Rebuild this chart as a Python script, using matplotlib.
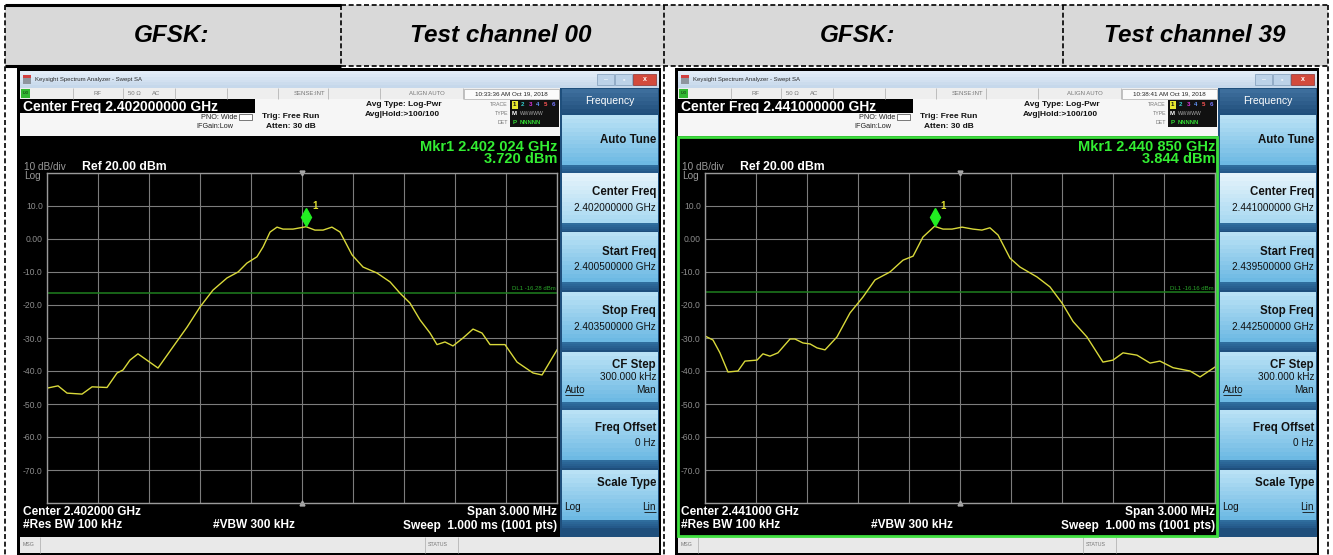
import matplotlib
matplotlib.use("Agg")
import matplotlib.pyplot as plt
from matplotlib.patches import Rectangle

# ---------------- data ----------------
header_labels = ["GFSK:", "Test channel 00", "GFSK:", "Test channel 39"]

left_center = "2.402000000 GHz"
left_start = "2.400500000 GHz"
left_stop = "2.403500000 GHz"
left_center_short = "2.402000 GHz"
left_time = "10:33:36 AM Oct 19, 2018"
left_mkr_freq_text = "2.402 024 GHz"
left_mkr_level_text = "3.720 dBm"
left_mkr_offset = 0.024          # MHz from centre
left_mkr_level = 3.72
left_dl = -16.28
left_freq = [-1.5, -1.435, -1.382, -1.294, -1.235, -1.147, -1.088, -1.053, -1.012, -0.965,
             -0.847, -0.759, -0.676, -0.6, -0.524, -0.441, -0.376, -0.324, -0.265, -0.229,
             -0.188, -0.147, -0.112, -0.053, 0.024, 0.076, 0.124, 0.176, 0.224, 0.294,
             0.359, 0.441, 0.518, 0.576, 0.635, 0.694, 0.753, 0.794, 0.841, 0.888,
             0.947, 1.006, 1.059, 1.106, 1.194, 1.265, 1.359, 1.412, 1.5]
left_level = [-45.2, -44.5, -46.7, -47.0, -44.8, -45.0, -40.6, -39.7, -36.7, -34.8,
              -39.1, -32.7, -26.7, -20.6, -15.5, -11.8, -10.0, -7.3, -5.4, -2.4,
              2.1, 3.6, 3.0, 3.0, 3.72, 2.7, 2.7, 3.6, 2.1, -4.8,
              -8.5, -10.3, -13.0, -16.4, -19.4, -24.5, -28.5, -32.0, -31.2, -32.4,
              -30.0, -27.3, -28.5, -32.0, -32.0, -37.3, -40.6, -41.2, -33.6]

right_center = "2.441000000 GHz"
right_start = "2.439500000 GHz"
right_stop = "2.442500000 GHz"
right_center_short = "2.441000 GHz"
right_time = "10:38:41 AM Oct 19, 2018"
right_mkr_freq_text = "2.440 850 GHz"
right_mkr_level_text = "3.844 dBm"
right_mkr_offset = -0.15
right_mkr_level = 3.844
right_dl = -16.16
right_freq = [-1.5, -1.453, -1.412, -1.365, -1.306, -1.265, -1.194, -1.159, -1.118, -1.071,
              -1.0, -0.971, -0.924, -0.882, -0.841, -0.794, -0.724, -0.647, -0.571, -0.5,
              -0.412, -0.335, -0.276, -0.218, -0.15, -0.1, -0.047, 0.012, 0.076, 0.129,
              0.176, 0.224, 0.294, 0.353, 0.453, 0.529, 0.6, 0.665, 0.747, 0.841,
              0.9, 0.959, 1.041, 1.118, 1.176, 1.253, 1.353, 1.412, 1.5]
right_level = [-29.4, -30.6, -34.5, -40.3, -40.0, -37.0, -36.7, -34.8, -35.5, -34.5,
               -30.3, -30.3, -31.5, -31.8, -33.0, -33.6, -29.7, -22.4, -17.6, -12.4,
               -10.0, -6.4, -5.2, 0.6, 3.84, 3.0, 3.0, 3.6, 3.0, 2.7,
               3.4, 1.2, -5.8, -8.5, -11.5, -14.5, -19.4, -25.0, -29.7, -37.3,
               -36.7, -34.5, -35.2, -37.6, -37.0, -39.0, -40.0, -41.8, -38.8]

y_ticks = [-80, -70, -60, -50, -40, -30, -20, -10, 0, 10, 20]
y_tick_labels = ["", "-70.0", "-60.0", "-50.0", "-40.0", "-30.0", "-20.0", "-10.0", "0.00", "10.0", ""]
x_ticks = [-1.5, -1.2, -0.9, -0.6, -0.3, 0.0, 0.3, 0.6, 0.9, 1.2, 1.5]

# ---------------- figure ----------------
W, H = 1333, 555
plt.rcParams['font.family'] = ['Liberation Sans', 'DejaVu Sans']
fig = plt.figure(figsize=(W / 100, H / 100), dpi=100)
fig.patch.set_facecolor('white')
bg = fig.add_axes([0, 0, 1, 1])
bg.set_xlim(0, W)
bg.set_ylim(H, 0)
bg.axis('off')


def rect(x0, y0, x1, y1, fc, ec='none', lw=0, z=1):
    bg.add_patch(Rectangle((x0, y0), x1 - x0, y1 - y0, facecolor=fc, edgecolor=ec,
                           linewidth=lw, zorder=z))


def txt(x, y, s, size, color='black', weight='normal', ha='left', va='center', style='normal', z=5):
    bg.text(x, y, s, fontsize=size, color=color, fontweight=weight, ha=ha, va=va,
            fontstyle=style, zorder=z)


def line(xs, ys, color='black', lw=1, ls='-', z=3):
    bg.plot(xs, ys, color=color, lw=lw, ls=ls, zorder=z, solid_capstyle='butt')


def grad(x0, y0, x1, y1, c_top, c_bot, n=12, z=2):
    import matplotlib.colors as mc
    a = mc.to_rgb(c_top)
    b = mc.to_rgb(c_bot)
    h = (y1 - y0) / n
    for i in range(n):
        t = i / (n - 1)
        c = tuple(a[k] * (1 - t) + b[k] * t for k in range(3))
        rect(x0, y0 + i * h, x1, y0 + (i + 1) * h + 0.3, c, z=z)


DASH = (0, (3, 1.6))

# ---------------- header table ----------------
rect(5, 5, 1328, 66, '#d9d9d9')
line([5, 341], [5, 5], lw=2.2)
line([5, 341], [66, 66], lw=2.2)
line([341, 1328], [5, 5], lw=1.2, ls=DASH)
line([341, 1328], [66, 66], lw=1.2, ls=DASH)
for xv in [341, 1063]:
    line([xv, xv], [5, 66], lw=1.2, ls=DASH)
for xv in [5, 664, 1328]:
    line([xv, xv], [5, 555], lw=1.2, ls=DASH)
header_x = [172, 501, 858, 1195]
for hx, lab in zip(header_x, header_labels):
    txt(hx, 36, lab, 17.5, weight='bold', ha='center', style='italic')


# ---------------- one analyzer screenshot ----------------
def screen(dx, center, start, stop, center_short, tstamp, mkr_ftext, mkr_ltext,
           mkr_off, mkr_lvl, dl, freqs, levels, green):
    X = lambda v: v + dx
    rect(X(17), 68, X(661), 555, 'black')
    # title bar
    grad(X(20), 71, X(659), 88, '#e3edf7', '#c6d8eb', n=6)
    rect(X(23), 75, X(31), 78, '#d04040', z=3)
    rect(X(23), 78, X(31), 84, '#8e959e', z=3)
    txt(X(35), 79.5, 'Keysight Spectrum Analyzer - Swept SA', 4.3, '#2a2a2a')
    rect(X(597), 74, X(614), 85, '#bcd2e8', ec='#7f9bb8', lw=0.5, z=3)
    rect(X(615), 74, X(632), 85, '#bcd2e8', ec='#7f9bb8', lw=0.5, z=3)
    rect(X(633), 74, X(656), 85, '#d24a3c', ec='#8a3030', lw=0.5, z=3)
    txt(X(605.5), 79.5, '–', 5, '#ffffff', ha='center')
    txt(X(623.5), 79.5, '▫', 5, '#ffffff', ha='center')
    txt(X(644.5), 79.5, 'x', 5, '#ffffff', weight='bold', ha='center')

    # status row
    rect(X(20), 88, X(560), 99, '#eeeeee', z=2)
    rect(X(21), 89, X(30), 98, '#33b833', z=3)
    txt(X(25.5), 93.5, 'LXI', 3, '#103010', ha='center')
    for d in [73, 123, 175, 227, 278, 328, 380, 463]:
        line([X(d), X(d)], [88, 99], color='#b5b5b5', lw=0.6)
    txt(X(93), 93.5, 'RF', 4.3, '#777777')
    txt(X(128), 93.5, '50 Ω', 4.3, '#777777')
    txt(X(152), 93.5, 'AC', 4.3, '#777777')
    txt(X(325), 93.5, 'SENSE:INT', 4.3, '#777777', ha='right')
    txt(X(445), 93.5, 'ALIGN AUTO', 4.3, '#777777', ha='right')
    rect(X(464), 89, X(559), 98.5, '#fbfbfb', ec='#999999', lw=0.4, z=3)
    txt(X(511), 93.7, tstamp, 4.5, '#222222', ha='center')

    # main black area with info boxes
    rect(X(20), 99, X(560), 537, 'black', z=2)
    rect(X(255), 99, X(560), 136, '#f6f6f6', z=2)
    rect(X(20), 113, X(255), 136, '#f6f6f6', z=2)
    txt(X(23), 106.5, 'Center Freq ' + center, 10, 'white', weight='bold')
    txt(X(237), 117.5, 'PNO: Wide', 5.2, '#222222', ha='right')
    rect(X(239), 114, X(252), 120, '#ffffff', ec='#444444', lw=0.5, z=3)
    txt(X(233), 127, 'IFGain:Low', 5.2, '#222222', ha='right')
    txt(X(262), 116.5, 'Trig: Free Run', 6, '#111111', weight='bold')
    txt(X(266), 126.5, 'Atten: 30 dB', 6, '#111111', weight='bold')
    txt(X(404), 105, 'Avg Type: Log-Pwr', 6, '#111111', weight='bold', ha='center')
    txt(X(402), 114.5, 'Avg|Hold:>100/100', 6, '#111111', weight='bold', ha='center')
    # trace / type / detector box
    txt(X(508), 104.5, 'TRACE', 3.8, '#777777', ha='right')
    txt(X(508), 113.5, 'TYPE', 3.8, '#777777', ha='right')
    txt(X(508), 122.5, 'DET', 3.8, '#777777', ha='right')
    rect(X(510), 100, X(559), 127, '#111111', z=3)
    rect(X(511.5), 100.5, X(517.5), 108.5, '#e8e830', z=4)
    trace_cols = ['#111111', '#33cccc', '#dd33dd', '#6699ff', '#ff5555', '#7777ff']
    for i, c in enumerate(trace_cols):
        txt(X(514.5 + i * 7.8), 104.5, str(i + 1), 4.4, c, weight='bold', ha='center', z=6)
    txt(X(514.5), 113.5, 'M', 4.4, '#ffffff', weight='bold', ha='center', z=6)
    txt(X(520), 113.5, 'WWWWW', 3.6, '#aaaaaa', ha='left', z=6)
    txt(X(514.5), 122.5, 'P', 4.4, '#33dd33', weight='bold', ha='center', z=6)
    txt(X(520), 122.5, 'NNNNN', 4.2, '#33dd33', weight='bold', ha='left', z=6)

    txt(X(557), 147, 'Mkr1 ' + mkr_ftext, 10.5, '#33ee33', weight='bold', ha='right')
    txt(X(557), 159, mkr_ltext, 10.5, '#33ee33', weight='bold', ha='right')
    txt(X(24), 167.5, '10 dB/div', 7.2, '#9a9a9a')
    txt(X(82), 167.5, 'Ref 20.00 dBm', 8.8, 'white', weight='bold')
    txt(X(24), 176, 'Log', 7.2, '#9a9a9a')

    txt(X(23), 512, 'Center ' + center_short, 8.6, 'white', weight='bold')
    txt(X(23), 525.5, '#Res BW 100 kHz', 8.6, 'white', weight='bold')
    txt(X(213), 525.5, '#VBW 300 kHz', 8.6, 'white', weight='bold')
    txt(X(557), 512, 'Span 3.000 MHz', 8.6, 'white', weight='bold', ha='right')
    txt(X(557), 525.5, 'Sweep  1.000 ms (1001 pts)', 8.6, 'white', weight='bold', ha='right')

    # bottom status bar
    rect(X(20), 537, X(659), 553, '#e9e9e9', z=2)
    for d in [40, 425, 458]:
        line([X(d), X(d)], [537, 553], color='#b5b5b5', lw=0.6)
    txt(X(23), 545, 'MSG', 3.8, '#777777')
    txt(X(428), 545, 'STATUS', 3.8, '#777777')

    # soft key panel
    rect(X(560), 88, X(659), 537, '#1f4f7c', z=2)
    grad(X(562), 89, X(658), 113, '#3d6e9c', '#24527f', n=6, z=3)
    txt(X(610), 101, 'Frequency', 7.5, 'white', ha='center')
    tops = [115, 173, 232, 292, 352, 410, 470]
    for i, t in enumerate(tops):
        if i == 1:
            grad(X(562), t, X(658), t + 50, '#e4f3fb', '#a9d9f1', n=12, z=3)
        else:
            grad(X(562), t, X(658), t + 50, '#b9e1f5', '#6db9e3', n=12, z=3)
        grad(X(562), t + 50, X(658), t + 58, '#2f6d9d', '#24598a', n=4, z=3)
    RX = X(656)
    kw = dict(weight='bold', ha='right')
    txt(RX, 140, 'Auto Tune', 8.3, '#111111', **kw)
    txt(RX, 192, 'Center Freq', 8.3, '#111111', **kw)
    txt(RX, 208, center, 7.2, '#111111', ha='right')
    txt(RX, 252, 'Start Freq', 8.3, '#111111', **kw)
    txt(RX, 267.5, start, 7.2, '#111111', ha='right')
    txt(RX, 311, 'Stop Freq', 8.3, '#111111', **kw)
    txt(RX, 327, stop, 7.2, '#111111', ha='right')
    txt(RX, 365, 'CF Step', 8.3, '#111111', **kw)
    txt(RX, 377.5, '300.000 kHz', 7.2, '#111111', ha='right')
    txt(X(565), 390, 'Auto', 7.2, '#111111')
    line([X(565), X(583)], [394.5, 394.5], color='#111111', lw=0.6, z=6)
    txt(RX, 390, 'Man', 7.2, '#111111', ha='right')
    txt(RX, 428, 'Freq Offset', 8.3, '#111111', **kw)
    txt(RX, 443.5, '0 Hz', 7.2, '#111111', ha='right')
    txt(RX, 483, 'Scale Type', 8.3, '#111111', **kw)
    txt(X(564), 507, 'Log', 7.2, '#111111')
    txt(RX, 507, 'Lin', 7.2, '#111111', ha='right')
    line([X(644), X(656)], [511.5, 511.5], color='#111111', lw=0.6, z=6)

    if green:
        rect(X(19.5), 137, X(559), 536, 'none', ec='#3fe03f', lw=2, z=6)

    # trace axes
    x0, x1, y0, y1 = X(47), X(557), 173, 503
    ax = fig.add_axes([x0 / W, (H - y1) / H, (x1 - x0) / W, (y1 - y0) / H])
    ax.set_facecolor('black')
    ax.set_xlim(-1.5, 1.5)
    ax.set_ylim(-80, 20)
    ax.set_xticks(x_ticks)
    ax.set_xticklabels([])
    ax.set_yticks(y_ticks)
    ax.set_yticklabels(y_tick_labels)
    ax.tick_params(length=0, pad=3, labelcolor='#8c8c8c', labelsize=6.2)
    ax.grid(True, color='#7c7c7c', lw=0.8)
    for s in ax.spines.values():
        s.set_color('#9a9a9a')
        s.set_linewidth(1.0)
    ax.axhline(dl, color='#1f7f1f', lw=1.1)
    ax.text(1.49, dl + 0.5, 'DL1 %.2f dBm' % dl, fontsize=4.3, color='#2aa52a',
            ha='right', va='bottom')
    ax.plot(freqs, levels, color='#d9d93a', lw=1.0)
    ax.plot([mkr_off], [mkr_lvl + 2.8], marker='d', ms=9, color='#22ee22',
            mec='#22ee22')
    ax.text(mkr_off + 0.035, mkr_lvl + 6.3, '1', fontsize=7, color='#e0e030',
            ha='left', va='center', fontweight='bold')
    ax.plot([0], [20], marker='v', ms=3.5, color='#aaaaaa', clip_on=False)
    ax.plot([0], [-80], marker='^', ms=3.5, color='#aaaaaa', clip_on=False)
    return ax


screen(0, left_center, left_start, left_stop, left_center_short, left_time,
       left_mkr_freq_text, left_mkr_level_text, left_mkr_offset, left_mkr_level,
       left_dl, left_freq, left_level, False)
screen(658, right_center, right_start, right_stop, right_center_short, right_time,
       right_mkr_freq_text, right_mkr_level_text, right_mkr_offset, right_mkr_level,
       right_dl, right_freq, right_level, True)

fig.savefig('out.png', dpi=100, facecolor='white')
